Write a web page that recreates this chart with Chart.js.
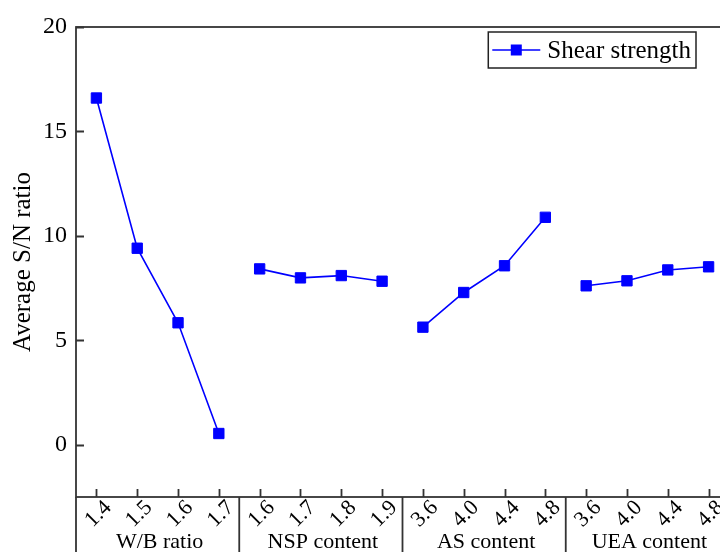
<!DOCTYPE html>
<html>
<head>
<meta charset="utf-8">
<script src="https://cdn.jsdelivr.net/npm/chart.js@4.4.0/dist/chart.umd.min.js"></script>
<style>
  html, body { margin: 0; padding: 0; background: #fff; overflow: hidden; }
  #wrap { width: 720px; height: 552px; overflow: hidden; }
  canvas { display: block; }
</style>
</head>
<body>
<div id="wrap"><canvas id="snChart" width="760" height="552"></canvas></div>
<script>
// factor levels (x tick labels), one list per factor
const wbLevels = ["1.4", "1.5", "1.6", "1.7"];
const nspLevels = ["1.6", "1.7", "1.8", "1.9"];
const asLevels = ["3.6", "4.0", "4.4", "4.8"];
const ueaLevels = ["3.6", "4.0", "4.4", "4.8"];
const groupNames = ["W/B ratio", "NSP content", "AS content", "UEA content"];

// average S/N ratio of shear strength for each level
const wbSN = [16.60, 9.41, 5.84, 0.54];
const nspSN = [8.42, 7.99, 8.10, 7.83];
const asSN = [5.63, 7.29, 8.57, 10.89];
const ueaSN = [7.61, 7.85, 8.37, 8.52];

const yTicks = [0, 5, 10, 15, 20];

const levelGroups = [wbLevels, nspLevels, asLevels, ueaLevels];
const categories = levelGroups.flat();
const values = [wbSN, nspSN, asSN, ueaSN].flat();
const groupSize = wbLevels.length;

const BLUE = "#0000ff";
const AXIS = "#333333";
const SERIF = "'Liberation Serif', 'Times New Roman', serif";

// frame, inward ticks, group separators, rotated tick labels and legend
const framePlugin = {
    id: "framePlugin",
    beforeDatasetsDraw(chart) {
        const { ctx, chartArea: a, scales: { x, y } } = chart;
        ctx.save();
        ctx.strokeStyle = AXIS;
        ctx.lineWidth = 1.8;
        ctx.strokeRect(a.left, a.top, a.right - a.left, a.bottom - a.top);

        ctx.beginPath();
        yTicks.forEach(v => {
            const py = Math.round(y.getPixelForValue(v)) + 0.5;
            ctx.moveTo(a.left, py);
            ctx.lineTo(a.left + 8, py);
        });
        categories.forEach((c, i) => {
            const px = Math.round(x.getPixelForValue(i)) + 0.5;
            ctx.moveTo(px, a.bottom);
            ctx.lineTo(px, a.bottom - 8);
        });
        // separators under the axis
        const seps = [a.left];
        for (let g = 1; g < levelGroups.length; g++) {
            const i = g * groupSize;
            seps.push((x.getPixelForValue(i - 1) + x.getPixelForValue(i)) / 2);
        }
        seps.push(a.right);
        seps.forEach(sx => {
            ctx.moveTo(sx, a.bottom);
            ctx.lineTo(sx, chart.height);
        });
        ctx.stroke();
        ctx.restore();
    },
    afterDraw(chart) {
        const { ctx, chartArea: a, scales: { x } } = chart;
        ctx.save();
        ctx.fillStyle = "#000";

        // rotated level labels
        ctx.font = "22px " + SERIF;
        ctx.textAlign = "center";
        ctx.textBaseline = "middle";
        categories.forEach((c, i) => {
            const px = x.getPixelForValue(i);
            ctx.save();
            ctx.translate(px + 2, a.bottom + 17);
            ctx.rotate(-Math.PI / 4);
            ctx.fillText(c, 0, 0);
            ctx.restore();
        });

        // factor names
        ctx.textBaseline = "alphabetic";
        groupNames.forEach((name, g) => {
            const x0 = x.getPixelForValue(g * groupSize);
            const x1 = x.getPixelForValue(g * groupSize + groupSize - 1);
            ctx.fillText(name, (x0 + x1) / 2 + 2, 548);
        });

        // legend box
        const label = chart.data.datasets[0].label;
        ctx.font = "25px " + SERIF;
        const tw = ctx.measureText(label).width;
        const bw = 4 + 48 + 7 + tw + 5;
        const bh = 36;
        const bx = a.right - 33 - bw;
        const by = a.top + 5;
        ctx.strokeStyle = "#222";
        ctx.lineWidth = 1.5;
        ctx.strokeRect(bx, by, bw, bh);
        const ly = by + bh / 2;
        ctx.strokeStyle = BLUE;
        ctx.lineWidth = 1.6;
        ctx.beginPath();
        ctx.moveTo(bx + 4, ly);
        ctx.lineTo(bx + 52, ly);
        ctx.stroke();
        ctx.fillStyle = BLUE;
        ctx.fillRect(bx + 28 - 5.5, ly - 5.5, 11, 11);
        ctx.fillStyle = "#000";
        ctx.textAlign = "left";
        ctx.textBaseline = "middle";
        ctx.fillText(label, bx + 59, ly + 1);
        ctx.restore();
    }
};

new Chart(document.getElementById("snChart"), {
    type: "line",
    data: {
        labels: categories,
        datasets: [{
            label: "Shear strength",
            data: values,
            borderColor: BLUE,
            backgroundColor: BLUE,
            borderWidth: 1.6,
            pointStyle: "rect",
            pointRadius: 7.3,
            pointBorderWidth: 1,
            pointBorderColor: BLUE,
            pointBackgroundColor: BLUE,
            tension: 0,
            segment: {
                borderColor: ctx => (ctx.p1DataIndex % groupSize === 0 ? "rgba(0,0,0,0)" : BLUE),
            },
        }],
    },
    options: {
        responsive: false,
        animation: false,
        layout: { padding: { top: 27, right: 31, left: 0, bottom: 0 } },
        plugins: {
            legend: { display: false },
            tooltip: { enabled: false },
        },
        scales: {
            x: {
                type: "category",
                offset: true,
                grid: { display: false, drawTicks: false },
                border: { display: false },
                ticks: { display: false },
                afterFit: scale => { scale.height = 55; },
            },
            y: {
                min: -2.5,
                max: 20,
                grid: { display: false, drawTicks: false },
                border: { display: false },
                afterBuildTicks: scale => { scale.ticks = yTicks.map(v => ({ value: v })); },
                ticks: {
                    color: "#000",
                    padding: 9,
                    font: { family: SERIF, size: 24 },
                },
                title: {
                    display: true,
                    text: "Average S/N ratio",
                    color: "#000",
                    font: { family: SERIF, size: 25 },
                    padding: { top: 8, bottom: 0 },
                },
                afterFit: scale => { scale.width = 76; },
            },
        },
    },
    plugins: [framePlugin],
});
</script>
</body>
</html>
